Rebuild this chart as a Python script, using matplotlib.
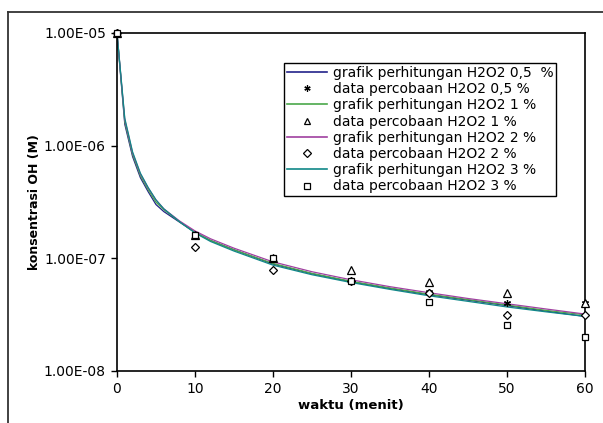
import matplotlib
matplotlib.use("Agg")
import matplotlib.pyplot as plt
from matplotlib.lines import Line2D

# data percobaan (titik)
t_data = [0, 10, 20, 30, 40, 50, 60]
data_05 = [1e-5, 1.6e-7, 1.0e-7, 6.3e-8, 5.0e-8, 4.0e-8, 4.0e-8]
data_1 = [1e-5, 1.6e-7, 1.0e-7, 7.8e-8, 6.2e-8, 4.9e-8, 4.0e-8]
data_2 = [1e-5, 1.25e-7, 7.9e-8, 6.3e-8, 4.9e-8, 3.15e-8, 3.15e-8]
data_3 = [1e-5, 1.6e-7, 1.0e-7, 6.3e-8, 4.1e-8, 2.55e-8, 2.0e-8]

# grafik perhitungan (garis)
t_calc = [0, 1, 2, 3, 4, 5, 6, 8, 10, 12, 15, 20, 25, 30, 35, 40, 45, 50, 55, 60]
calc_05 = [1e-5, 1.55e-6, 8.0e-7, 5.2e-7, 3.9e-7, 3.0e-7, 2.6e-7, 2.1e-7, 1.70e-7, 1.44e-7,
           1.19e-7, 8.9e-8, 7.3e-8, 6.2e-8, 5.4e-8, 4.75e-8, 4.25e-8, 3.8e-8, 3.4e-8, 3.05e-8]
calc_1 = [1e-5, 1.62e-6, 8.3e-7, 5.4e-7, 4.05e-7, 3.15e-7, 2.7e-7, 2.12e-7, 1.70e-7, 1.44e-7,
          1.19e-7, 9.0e-8, 7.35e-8, 6.25e-8, 5.45e-8, 4.8e-8, 4.3e-8, 3.85e-8, 3.45e-8, 3.15e-8]
calc_2 = [1e-5, 1.7e-6, 8.6e-7, 5.6e-7, 4.2e-7, 3.3e-7, 2.75e-7, 2.15e-7, 1.75e-7, 1.49e-7,
          1.23e-7, 9.3e-8, 7.6e-8, 6.45e-8, 5.6e-8, 4.95e-8, 4.4e-8, 3.95e-8, 3.55e-8, 3.2e-8]
calc_3 = [1e-5, 1.75e-6, 8.8e-7, 5.7e-7, 4.25e-7, 3.3e-7, 2.75e-7, 2.12e-7, 1.68e-7, 1.41e-7,
          1.16e-7, 8.7e-8, 7.15e-8, 6.1e-8, 5.3e-8, 4.65e-8, 4.15e-8, 3.7e-8, 3.35e-8, 3.05e-8]

yticks = [1e-8, 1e-7, 1e-6, 1e-5]
ytick_labels = ["1.00E-08", "1.00E-07", "1.00E-06", "1.00E-05"]
xticks = [0, 10, 20, 30, 40, 50, 60]

plt.rcParams['font.family'] = ['DejaVu Sans']
fs = 10

fig = plt.figure(figsize=(6.03, 4.23), dpi=100)
ax = fig.add_axes([0.194, 0.123, 0.776, 0.799])

# garis perhitungan
ax.plot(t_calc, calc_05, color='#22228a', lw=0.9, label='grafik perhitungan H2O2 0,5  %')
ax.plot(t_calc, calc_1, color='#4aa84a', lw=0.9, label='grafik perhitungan H2O2 1 %')
ax.plot(t_calc, calc_2, color='#a040a0', lw=0.9, label='grafik perhitungan H2O2 2 %')
ax.plot(t_calc, calc_3, color='#108888', lw=0.9, label='grafik perhitungan H2O2 3 %')

# titik percobaan
mk = dict(linestyle='none', color='black', mfc='white', mew=0.9, clip_on=False, zorder=5)
ax.plot(t_data, data_05, marker=(6, 2, 0), ms=5, **mk)
ax.plot(t_data, data_1, marker='^', ms=5.5, **mk)
ax.plot(t_data, data_2, marker='D', ms=4.5, **mk)
ax.plot(t_data, data_3, marker='s', ms=4.5, **mk)

ax.set_yscale('log')
ax.set_ylim(1e-8, 1e-5)
ax.set_xlim(0, 60)
ax.set_yticks(yticks)
ax.set_yticklabels(ytick_labels)
ax.minorticks_off()
ax.set_xticks(xticks)
ax.tick_params(direction='out', length=4, width=1, labelsize=fs, pad=4)
ax.tick_params(top=False, right=False)
for s in ax.spines.values():
    s.set_linewidth(1.2)

ax.set_xlabel('waktu (menit)', fontsize=9.5, fontweight='bold', labelpad=2)
ax.set_ylabel('konsentrasi OH (M)', fontsize=9, fontweight='bold', labelpad=2)

# legenda
handles = [
    Line2D([], [], color='#22228a', lw=1.2),
    Line2D([], [], ls='none', marker=(6, 2, 0), ms=4.5, color='black', mew=0.9),
    Line2D([], [], color='#4aa84a', lw=1.2),
    Line2D([], [], ls='none', marker='^', ms=5, color='black', mfc='white', mew=0.9),
    Line2D([], [], color='#a040a0', lw=1.2),
    Line2D([], [], ls='none', marker='D', ms=4, color='black', mfc='white', mew=0.9),
    Line2D([], [], color='#108888', lw=1.2),
    Line2D([], [], ls='none', marker='s', ms=4.5, color='black', mfc='white', mew=0.9),
]
labels = [
    'grafik perhitungan H2O2 0,5  %', 'data percobaan H2O2 0,5 %',
    'grafik perhitungan H2O2 1 %', 'data percobaan H2O2 1 %',
    'grafik perhitungan H2O2 2 %', 'data percobaan H2O2 2 %',
    'grafik perhitungan H2O2 3 %', 'data percobaan H2O2 3 %',
]
leg = ax.legend(handles, labels, loc='upper left', bbox_to_anchor=(0.357, 0.911),
                borderaxespad=0, fontsize=fs, handlelength=2.9, handletextpad=0.4,
                labelspacing=0.16, fancybox=False, framealpha=1, borderpad=0.2)
leg.get_frame().set_edgecolor('black')
leg.get_frame().set_linewidth(1.0)

# bingkai luar (terpotong kanan & bawah)
fig.add_artist(Line2D([0.0133, 0.0133], [0, 0.972], color='#333333', lw=1.3))
fig.add_artist(Line2D([0.0133, 1], [0.972, 0.972], color='#333333', lw=1.3))

fig.savefig('out.png', dpi=100)
